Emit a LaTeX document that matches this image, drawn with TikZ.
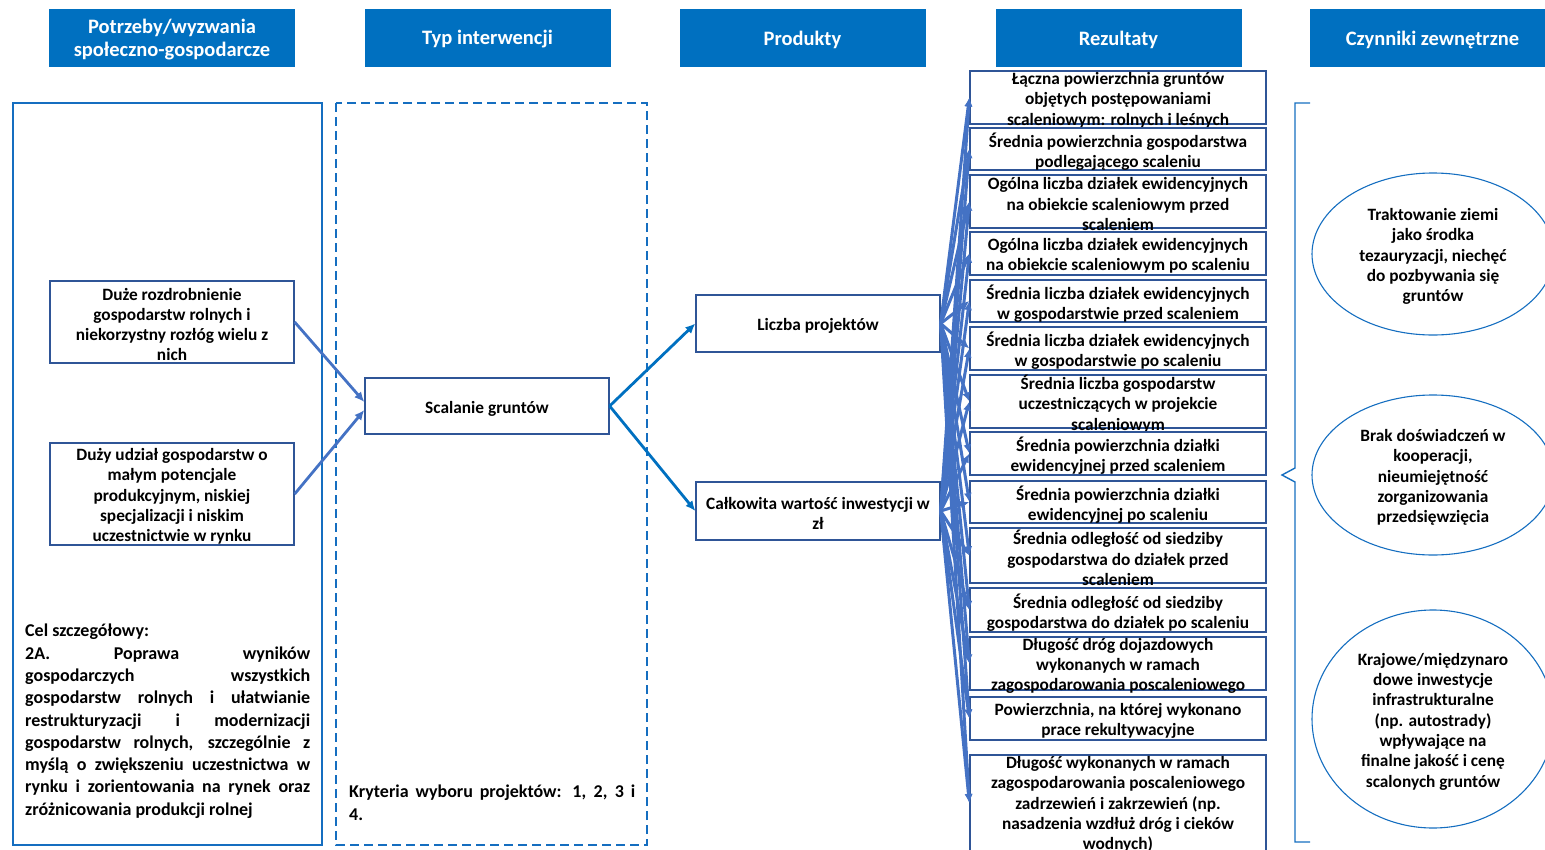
\documentclass[tikz,border=0pt]{standalone}
\usepackage{fontspec}
\setmainfont{Carlito}
\usetikzlibrary{arrows.meta,shapes.geometric}
\setlength{\parindent}{0pt}
\definecolor{hdrblue}{RGB}{0,112,192}
\definecolor{boxblue}{RGB}{47,85,151}
\definecolor{frameblue}{RGB}{21,110,192}
\definecolor{fanblue}{RGB}{68,114,196}
\tikzset{
  hdr/.style={fill=hdrblue, draw=none, text=white, minimum width=246pt, minimum height=58pt, align=center, inner sep=0pt},
  hdrtext/.style={text=white, align=center, inner sep=0pt, font=\bfseries\fontsize{20.5}{23.5}\selectfont},
  bx/.style={draw=boxblue, line width=1.3pt, minimum width=244pt, inner sep=0pt},
  rbox/.style={draw=boxblue, line width=1.3pt, minimum width=296pt, inner sep=0pt},
  btext/.style={align=center, inner sep=0pt, yshift=-2.5pt, font=\bfseries\fontsize{17.3}{20.3}\selectfont},
  ell/.style={ellipse, draw=frameblue, line width=1.1pt, inner sep=0pt},
  frame/.style={draw=frameblue, line width=1.4pt},
  dframe/.style={draw=frameblue, line width=1.4pt, dash pattern=on 9pt off 5pt},
  needarrow/.style={draw=fanblue, line width=2.8pt, -{Latex[length=10pt,width=9pt]}},
  prodarrow/.style={draw=hdrblue, line width=2.8pt, -{Latex[length=10pt,width=9pt]}},
  fanarrow/.style={draw=fanblue, line width=3pt, -{Latex[length=9pt,width=8pt]}},
  para/.style={inner sep=0pt, align=justify, font=\bfseries\fontsize{18}{22.3}\selectfont}
}
\begin{document}
\begin{tikzpicture}[x=1pt,y=-1pt]
\useasboundingbox (0,0) rectangle (1545,849);

% headers
\node[hdr] (h1) at (172,38) {};
\node[hdrtext] at ([yshift=-1.5pt]h1.center) {Potrzeby/wyzwania\\społeczno-gospodarcze};
\node[hdr] (h2) at (487.5,38) {};
\node[hdrtext] at ([yshift=-1.5pt]h2.center) {Typ interwencji};
\node[hdr] (h3) at (802.5,38) {};
\node[hdrtext] at ([yshift=-1.5pt]h3.center) {Produkty};
\node[hdr] (h4) at (1118.5,38) {};
\node[hdrtext] at ([yshift=-1.5pt]h4.center) {Rezultaty};
\node[hdr] (h5) at (1432.5,38) {};
\node[hdrtext] at ([yshift=-1.5pt]h5.center) {Czynniki zewnętrzne};

% column frames
\draw[frame] (13,103) rectangle (322,845);
\draw[dframe] (336,103) rectangle (647,845);

% needs
\node[bx, minimum height=82pt] (n1) at (172,322) {};
\node[btext] at (n1.center) {Duże rozdrobnienie\\gospodarstw rolnych i\\niekorzystny rozłóg wielu z\\nich};
\node[bx, minimum height=102pt] (n2) at (172,494) {};
\node[btext] at (n2.center) {Duży udział gospodarstw o\\małym potencjale\\produkcyjnym, niskiej\\specjalizacji i niskim\\uczestnictwie w rynku};

% intervention
\node[bx, minimum height=56pt] (sc) at (487,406) {};
\node[btext] at (sc.center) {Scalanie gruntów};

% products
\node[bx, minimum height=57pt] (p1) at (818,323.5) {};
\node[btext] at (p1.center) {Liczba projektów};
\node[bx, minimum height=58pt] (p2) at (818,511) {};
\node[btext] at (p2.center) {Całkowita wartość inwestycji w\\zł};

% results
\node[rbox, minimum height=53pt] (r1) at (1118,97.5) {};
\node[btext] at (r1.center) {Łączna powierzchnia gruntów\\objętych postępowaniami\\scaleniowym: rolnych i leśnych};
\node[rbox, minimum height=42pt] (r2) at (1118,149) {};
\node[btext] at (r2.center) {Średnia powierzchnia gospodarstwa\\podlegającego scaleniu};
\node[rbox, minimum height=53pt] (r3) at (1118,201.5) {};
\node[btext] at (r3.center) {Ogólna liczba działek ewidencyjnych\\na obiekcie scaleniowym przed\\scaleniem};
\node[rbox, minimum height=43pt] (r4) at (1118,253.5) {};
\node[btext] at (r4.center) {Ogólna liczba działek ewidencyjnych\\na obiekcie scaleniowym po scaleniu};
\node[rbox, minimum height=42pt] (r5) at (1118,301) {};
\node[btext] at (r5.center) {Średnia liczba działek ewidencyjnych\\w gospodarstwie przed scaleniem};
\node[rbox, minimum height=43pt] (r6) at (1118,348.5) {};
\node[btext] at (r6.center) {Średnia liczba działek ewidencyjnych\\w gospodarstwie po scaleniu};
\node[rbox, minimum height=53pt] (r7) at (1118,401.5) {};
\node[btext] at (r7.center) {Średnia liczba gospodarstw\\uczestniczących w projekcie\\scaleniowym};
\node[rbox, minimum height=43pt] (r8) at (1118,453.5) {};
\node[btext] at (r8.center) {Średnia powierzchnia działki\\ewidencyjnej przed scaleniem};
\node[rbox, minimum height=42pt] (r9) at (1118,502) {};
\node[btext] at (r9.center) {Średnia powierzchnia działki\\ewidencyjnej po scaleniu};
\node[rbox, minimum height=55pt] (r10) at (1118,555.5) {};
\node[btext] at (r10.center) {Średnia odległość od siedziby\\gospodarstwa do działek przed\\scaleniem};
\node[rbox, minimum height=44pt] (r11) at (1118,610) {};
\node[btext] at (r11.center) {Średnia odległość od siedziby\\gospodarstwa do działek po scaleniu};
\node[rbox, minimum height=53pt] (r12) at (1118,663.5) {};
\node[btext] at (r12.center) {Długość dróg dojazdowych\\wykonanych w ramach\\zagospodarowania poscaleniowego};
\node[rbox, minimum height=43pt] (r13) at (1118,718.5) {};
\node[btext] at (r13.center) {Powierzchnia, na której wykonano\\prace rekultywacyjne};
\node[rbox, minimum height=96pt] (r14) at (1118,803) {};
\node[btext] at ([yshift=1pt]r14.center) {Długość wykonanych w ramach\\zagospodarowania poscaleniowego\\zadrzewień i zakrzewień (np.\\nasadzenia wzdłuż dróg i cieków\\wodnych)};

% external factors
\draw[frameblue, line width=1.4pt] (1310,103) -- (1295,103) -- (1295,468) -- (1282,475) -- (1295,482) -- (1295,842) -- (1310,842);
\node[ell, minimum width=242pt, minimum height=162pt] (e1) at (1433,254) {};
\node[btext] at (e1.center) {Traktowanie ziemi\\jako środka\\tezauryzacji, niechęć\\do pozbywania się\\gruntów};
\node[ell, minimum width=242pt, minimum height=160pt] (e2) at (1433,475) {};
\node[btext] at (e2.center) {Brak doświadczeń w\\kooperacji,\\nieumiejętność\\zorganizowania\\przedsięwzięcia};
\node[ell, minimum width=242pt, minimum height=218pt] (e3) at (1433,719) {};
\node[btext] at (e3.center) {Krajowe/międzynaro\\dowe inwestycje\\infrastrukturalne\\(np. autostrady)\\wpływające na\\finalne jakość i cenę\\scalonych gruntów};

% paragraphs
\node[para, text width=285pt, anchor=north west] (cel) at (25,624) {Cel szczegółowy:\par 2A. Poprawa wyników\linebreak gospodarczych wszystkich\linebreak gospodarstw rolnych i ułatwianie\linebreak restrukturyzacji i modernizacji\linebreak gospodarstw rolnych, szczególnie z\linebreak myślą o zwiększeniu uczestnictwa w\linebreak rynku i zorientowania na rynek oraz\linebreak zróżnicowania produkcji rolnej};
\node[para, text width=286pt, anchor=north west] (kry) at (349,785) {Kryteria wyboru projektów: 1, 2, 3 i\linebreak 4.};

% connectors
\draw[needarrow] (n1.east) -- ([yshift=4pt]sc.west);
\draw[needarrow] (n2.east) -- ([yshift=-4pt]sc.west);
\draw[prodarrow] (sc.east) -- (p1.west);
\draw[prodarrow] (sc.east) -- (p2.west);
\foreach \i in {1,...,14} {
  \draw[fanarrow] (p1.east) -- (r\i.west);
  \draw[fanarrow] (p2.east) -- (r\i.west);
}
\end{tikzpicture}
\end{document}
